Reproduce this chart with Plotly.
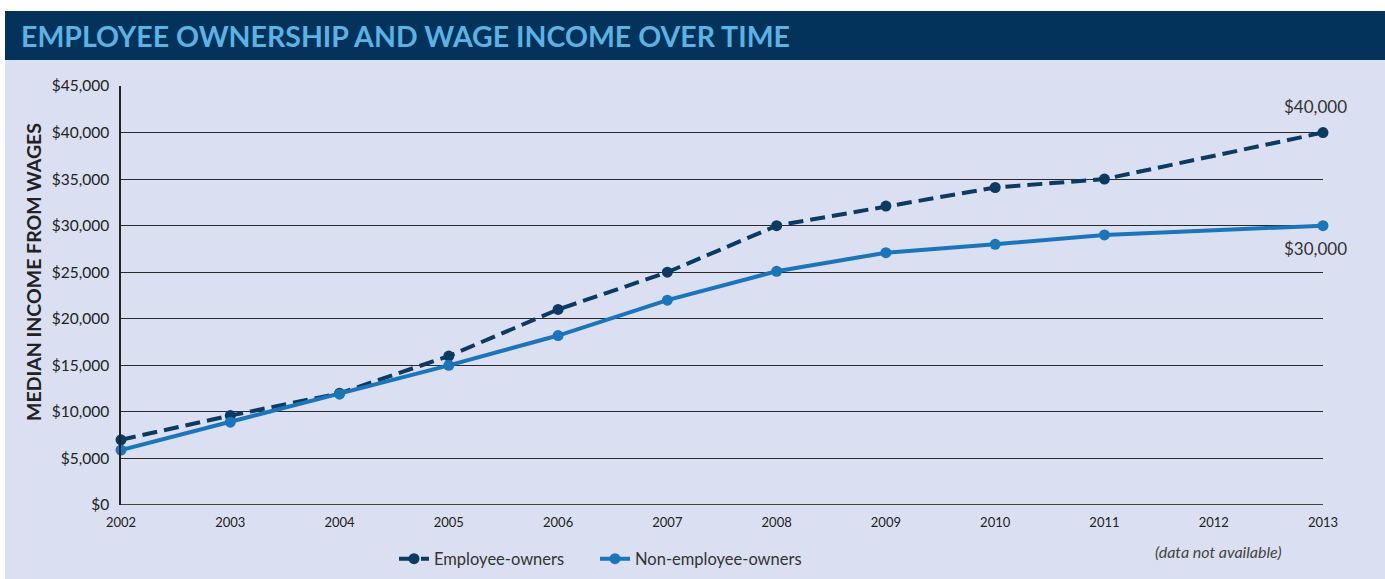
import plotly.graph_objects as go

years = [2002, 2003, 2004, 2005, 2006, 2007, 2008, 2009, 2010, 2011, 2012, 2013]
employee_owners = [7000, 9600, 12000, 16000, 21000, 25000, 30000, 32100, 34100, 35000, None, 40000]
non_employee_owners = [5900, 8900, 11900, 15000, 18200, 22000, 25100, 27100, 28000, 29000, None, 30000]
y_ticks = [0, 5000, 10000, 15000, 20000, 25000, 30000, 35000, 40000, 45000]
y_tick_labels = ["$" + format(v, ",") for v in y_ticks]

W, H = 1385, 579
def px(x): return x / W
def py(y): return 1 - y / H

NAVY = "#0b3a62"
BLUE = "#1b75bb"
PANEL = "#dae0f1"

fig = go.Figure()
fig.add_trace(go.Scatter(
    x=years, y=employee_owners, name="Employee-owners", mode="lines+markers",
    connectgaps=True, line=dict(color=NAVY, width=4, dash="15px,7px"),
    marker=dict(color=NAVY, size=11), cliponaxis=False, legend="legend"))
fig.add_trace(go.Scatter(
    x=years, y=non_employee_owners, name="Non-employee-owners", mode="lines+markers",
    connectgaps=True, line=dict(color=BLUE, width=4),
    marker=dict(color=BLUE, size=11), cliponaxis=False, legend="legend2"))

legend_common = dict(orientation="h", xanchor="left", yanchor="middle",
                     bgcolor="rgba(0,0,0,0)", font=dict(size=16.5, color="#333333"))

fig.update_layout(
    width=W, height=H,
    margin=dict(l=0, r=0, t=0, b=0, autoexpand=False),
    paper_bgcolor="white", plot_bgcolor="rgba(0,0,0,0)",
    font=dict(family="Lato, 'Open Sans', sans-serif", color="#333333"),
    showlegend=True,
    legend=dict(x=px(394), y=py(559), **legend_common),
    legend2=dict(x=px(595), y=py(559), **legend_common),
    xaxis=dict(domain=[px(121), px(1323)], range=[2002, 2013], tickmode="array",
               tickvals=years, ticktext=[str(y) for y in years], showgrid=False,
               zeroline=False, showline=False, ticks="", ticklabelstandoff=8,
               tickfont=dict(size=13, color="#222222")),
    yaxis=dict(domain=[py(505), py(86)], range=[0, 45000], tickmode="array",
               tickvals=y_ticks, ticktext=y_tick_labels,
               showgrid=True, gridcolor="#2a2a2a", gridwidth=1,
               zeroline=False, showline=True, linecolor="#222222", linewidth=1.5, ticks="",
               ticklabelstandoff=7, tickfont=dict(size=15.5, color="#222222")),
    shapes=[
        dict(type="rect", xref="paper", yref="paper", x0=px(5), x1=1, y0=0, y1=py(60),
             fillcolor=PANEL, line=dict(width=0), layer="below"),
        dict(type="rect", xref="paper", yref="paper", x0=px(5), x1=1, y0=py(60), y1=py(11),
             fillcolor="#03325a", line=dict(width=0), layer="below"),
        dict(type="line", xref="paper", yref="y", x0=px(121), x1=px(1323), y0=0, y1=0,
             line=dict(color="#444444", width=2), layer="below"),
    ],
    annotations=[
        dict(text="<b>EMPLOYEE OWNERSHIP AND WAGE INCOME OVER TIME</b>", xref="paper", yref="paper",
             x=px(19), y=py(36), xanchor="left", yanchor="middle", showarrow=False,
             font=dict(size=28.5, color="#5ab3e4", family="Lato, sans-serif")),
        dict(text="<b>MEDIAN INCOME FROM WAGES</b>", xref="paper", yref="paper", x=px(33), y=py(272),
             xanchor="center", yanchor="middle", textangle=-90, showarrow=False,
             font=dict(size=19.5, color="#222222", family="Lato, sans-serif")),
        dict(text="$40,000", xref="x", yref="y", x=2013, y=40000, yshift=26, xshift=-8,
             showarrow=False, font=dict(size=17, color="#333333")),
        dict(text="$30,000", xref="x", yref="y", x=2013, y=30000, yshift=-23, xshift=-8,
             showarrow=False, font=dict(size=17, color="#333333")),
        dict(text="<i>(data not available)</i>", xref="paper", yref="paper", x=px(1218), y=py(551),
             xanchor="center", yanchor="middle", showarrow=False,
             font=dict(size=16, color="#444444")),
    ],
)

fig.write_html("out.html")
